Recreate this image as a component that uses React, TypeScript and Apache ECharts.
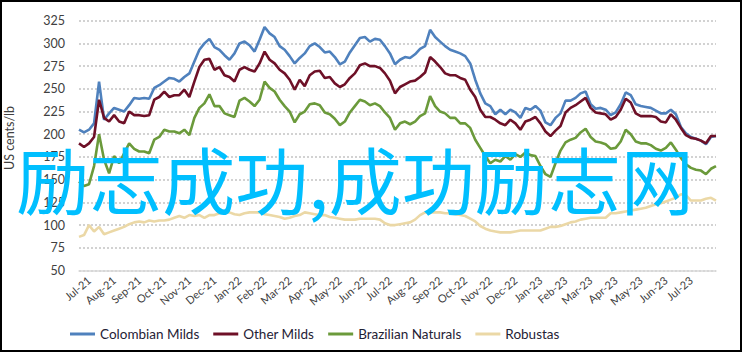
import React, { useEffect, useRef } from 'react';
import * as echarts from 'echarts';

// Month tick labels (one every 5 weekly-ish samples, starting at sample 2)
const monthLabels = [
  'Jul-21', 'Aug-21', 'Sep-21', 'Oct-21', 'Nov-21', 'Dec-21',
  'Jan-22', 'Feb-22', 'Mar-22', 'Apr-22', 'May-22', 'Jun-22',
  'Jul-22', 'Aug-22', 'Sep-22', 'Oct-22', 'Nov-22', 'Dec-22',
  'Jan-23', 'Feb-23', 'Mar-23', 'Apr-23', 'May-23', 'Jun-23', 'Jul-23',
];
const firstMonthIndex = 2;
const samplesPerMonth = 5;

const seriesNames = ['Colombian Milds', 'Other Milds', 'Brazilian Naturals', 'Robustas'];

const colombianMilds = [
  205, 202, 205, 212, 258, 216, 223, 229, 227, 225,
  232, 240, 239, 240, 239, 251, 254, 258, 262, 261,
  258, 263, 267, 280, 293, 300, 305, 296, 293, 287,
  282, 289, 300, 302, 298, 291, 304, 318, 311, 307,
  297, 293, 286, 278, 284, 289, 297, 300, 296, 290,
  291, 285, 277, 280, 290, 298, 306, 307, 302, 305,
  304, 297, 289, 277, 282, 285, 284, 288, 294, 297,
  315, 307, 302, 297, 293, 291, 289, 286, 278, 260,
  245, 234, 231, 222, 227, 222, 227, 224, 218, 229,
  227, 231, 226, 213, 210, 218, 223, 237, 237, 240,
  245, 247, 233, 228, 229, 227, 221, 224, 233, 246,
  243, 233, 231, 230, 229, 226, 223, 223, 227, 222,
  208, 201, 197, 195, 193, 189, 197, 198,
];

const otherMilds = [
  190, 186, 190, 197, 238, 218, 214, 221, 214, 212,
  225, 221, 221, 220, 221, 238, 241, 247, 241, 243,
  243, 249, 241, 258, 274, 282, 283, 271, 274, 265,
  263, 258, 271, 274, 271, 269, 278, 291, 282, 278,
  271, 267, 260, 249, 260, 253, 265, 269, 270, 262,
  263, 256, 252, 255, 262, 267, 276, 278, 275, 275,
  273, 267, 259, 245, 252, 255, 258, 259, 263, 268,
  285, 280, 274, 267, 265, 265, 262, 260, 249, 241,
  227, 219, 219, 216, 212, 210, 216, 212, 205, 214,
  216, 219, 212, 203, 198, 204, 209, 224, 229, 232,
  236, 240, 229, 224, 223, 222, 216, 219, 227, 239,
  235, 223, 220, 220, 220, 219, 214, 213, 222, 216,
  207, 199, 196, 195, 193, 190, 198, 198,
];

const brazilianNaturals = [
  148, 143, 145, 165, 200, 172, 157, 176, 168, 179,
  190, 184, 181, 181, 179, 194, 197, 205, 203, 203,
  201, 205, 199, 218, 229, 234, 244, 231, 231, 223,
  221, 219, 237, 240, 236, 231, 238, 258, 251, 247,
  238, 231, 225, 213, 222, 225, 233, 234, 232, 224,
  222, 217, 210, 214, 224, 231, 238, 236, 232, 234,
  231, 224, 218, 205, 212, 214, 211, 214, 220, 223,
  242, 231, 225, 223, 218, 218, 212, 212, 207, 194,
  185, 176, 168, 172, 170, 176, 172, 178, 175, 180,
  177, 176, 165, 156, 153, 168, 182, 191, 194, 196,
  202, 206, 197, 192, 191, 189, 184, 185, 192, 205,
  200, 192, 190, 190, 188, 184, 182, 185, 191, 183,
  174, 167, 163, 161, 160, 156, 162, 165,
];

const robustas = [
  87, 89, 100, 93, 98, 90, 92, 94, 96, 98,
  101, 103, 104, 103, 105, 104, 105, 105, 106, 108,
  110, 108, 111, 110, 111, 108, 111, 111, 113, 114,
  114, 112, 111, 113, 114, 114, 114, 112, 111, 110,
  109, 107, 108, 110, 111, 114, 113, 112, 111, 111,
  109, 108, 107, 106, 106, 106, 107, 107, 107, 107,
  106, 102, 100, 100, 101, 102, 103, 106, 111, 114,
  114, 114, 114, 113, 113, 112, 111, 110, 107, 104,
  99, 96, 94, 93, 92, 92, 92, 93, 94, 94,
  94, 94, 94, 96, 98, 98, 99, 101, 103, 104,
  106, 107, 108, 108, 108, 108, 113, 113, 114, 115,
  116, 117, 118, 119, 121, 123, 124, 126, 128, 130,
  134, 133, 127, 127, 127, 129, 130, 127,
];

const yMin = 50;
const yMax = 325;
const yStep = 25;

const colors = ['#4F81BD', '#6E1027', '#6B9A3B', '#EBD8A6'];
const overlayText = '励志成功,成功励志网';
const yAxisName = 'US cents/lb';

export default function App() {
  const ref = useRef<HTMLDivElement>(null);

  useEffect(() => {
    document.body.style.margin = '0';
    const chart = echarts.init(ref.current as HTMLDivElement, null, { renderer: 'svg' });
    const font = 'Lato, "Open Sans", sans-serif';
    const categories = colombianMilds.map((_, i) => String(i));
    const labelFor = (i: number) => {
      const m = (i - firstMonthIndex) / samplesPerMonth;
      return Number.isInteger(m) && m >= 0 && m < monthLabels.length ? monthLabels[m] : '';
    };
    const allData = [colombianMilds, otherMilds, brazilianNaturals, robustas];
    const series = seriesNames.map((name, k) => ({
      name,
      type: 'line',
      data: allData[k],
      showSymbol: false,
      symbol: 'none',
      lineStyle: { color: colors[k], width: 2.6 },
      itemStyle: { color: colors[k] },
      emphasis: { disabled: true },
      z: 2 + k,
    }));

    chart.setOption({
      animation: false,
      backgroundColor: '#ffffff',
      grid: { left: 79, right: 27, top: 20.7, bottom: 81.5, outerBoundsMode: 'none' },
      xAxis: {
        type: 'category',
        data: categories,
        boundaryGap: false,
        axisLine: { lineStyle: { color: '#d9d9d9', width: 1.5 } },
        axisTick: { show: false },
        splitLine: { show: false },
        axisLabel: {
          interval: (i: number) => labelFor(i) !== '',
          formatter: (_v: string, i: number) => labelFor(i),
          rotate: 40,
          fontSize: 11,
          color: '#404040',
          fontFamily: font,
          margin: 8,
        },
      },
      yAxis: {
        type: 'value',
        min: yMin,
        max: yMax,
        interval: yStep,
        axisLine: { show: false },
        axisTick: { show: false },
        splitLine: { lineStyle: { color: '#c4c4c4', type: [2, 2], width: 1.5 } },
        axisLabel: { fontSize: 12.5, color: '#404040', margin: 14, fontFamily: font },
      },
      legend: {
        left: 65,
        top: 322,
        icon: 'rect',
        itemWidth: 25,
        itemHeight: 3,
        itemGap: 14,
        data: seriesNames,
        textStyle: { fontSize: 13.5, color: '#1f2235', fontFamily: font },
      },
      graphic: [
        {
          type: 'rect',
          shape: { x: 1, y: 1, width: 740, height: 350 },
          style: { fill: 'none', stroke: '#000', lineWidth: 2 },
          z: 200,
        },
        {
          type: 'text',
          x: 9,
          y: 138,
          rotation: Math.PI / 2,
          style: {
            text: yAxisName,
            fontSize: 12.5,
            fontFamily: font,
            fill: '#404040',
            align: 'center',
            verticalAlign: 'middle',
          },
          z: 50,
        },
        {
          type: 'text',
          x: 355,
          y: 177,
          style: {
            text: overlayText,
            fontSize: 73,
            fontFamily: '"Noto Sans CJK SC", sans-serif',
            fill: '#00BFFF',
            align: 'center',
            verticalAlign: 'middle',
          },
          z: 100,
        },
      ],
      series,
    });
    return () => chart.dispose();
  }, []);

  return (
    <div
      ref={ref}
      style={{ position: 'absolute', left: 0, top: 0, width: 743, height: 352 }}
    />
  );
}
